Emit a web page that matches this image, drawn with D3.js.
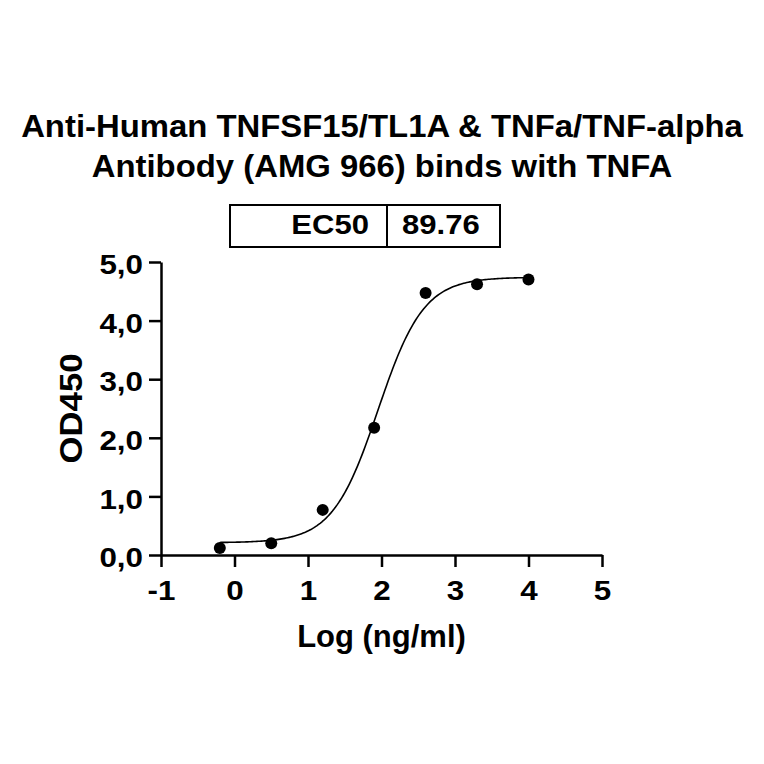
<!DOCTYPE html>
<html>
<head>
<meta charset="utf-8">
<script src="https://cdn.jsdelivr.net/npm/d3@7"></script>
<style>
  body { margin: 0; background: #fff; }
  text { font-family: "Liberation Sans", Arial, Helvetica, sans-serif; font-weight: bold; fill: #000; }
</style>
</head>
<body>
<div id="chart"></div>
<script>
// data
const titleLines = ['Anti-Human TNFSF15/TL1A & TNFa/TNF-alpha', 'Antibody (AMG 966) binds with TNFA'];
const logConc = [-0.2, 0.5, 1.2, 1.9, 2.6, 3.3, 4.0];
const od450 = [0.12, 0.20, 0.77, 2.17, 4.47, 4.62, 4.70];
const xTicks = [-1, 0, 1, 2, 3, 4, 5];
const yTicks = [0, 1, 2, 3, 4, 5];
const tableLabels = ['EC50'];
const tableValues = ['89.76'];
// 4PL fit (bottom, top, logEC50, hill)
const fitBottom = 0.21;
const fitTop = 4.74;
const fitLogEC50 = Math.log10(89.76);
const fitHill = 1.4;

const width = 764, height = 764;
const margin = {top: 262, right: 162, bottom: 209, left: 161};
const chartWidth = width - margin.left - margin.right;
const chartHeight = height - margin.top - margin.bottom;

const svg = d3.select('#chart')
  .append('svg')
  .attr('width', width)
  .attr('height', height);

// widen glyphs a bit, the source font runs wider than Arial
function stretch(sel, k) {
  sel.each(function() {
    const w = this.getComputedTextLength();
    d3.select(this).attr('textLength', w * k).attr('lengthAdjust', 'spacingAndGlyphs');
  });
}

// title
const title = svg.append('g');
title.selectAll('text')
  .data(titleLines)
  .join('text')
  .attr('x', 382)
  .attr('y', (d, i) => 137 + i * 40)
  .attr('text-anchor', 'middle')
  .style('font-size', '31px')
  .text(d => d)
  .call(stretch, 1.06);

// EC50 table
const table = svg.append('g');
table.append('rect')
  .attr('x', 230).attr('y', 205)
  .attr('width', 270).attr('height', 42)
  .attr('fill', 'none').attr('stroke', '#000').attr('stroke-width', 2);
table.append('line')
  .attr('x1', 387).attr('x2', 387).attr('y1', 205).attr('y2', 247)
  .attr('stroke', '#000').attr('stroke-width', 2);
table.append('text')
  .attr('x', 369).attr('y', 234)
  .attr('text-anchor', 'end')
  .style('font-size', '27px')
  .text(tableLabels[0])
  .call(stretch, 1.15);
table.append('text')
  .attr('x', 402).attr('y', 234)
  .style('font-size', '27px')
  .text(tableValues[0])
  .call(stretch, 1.15);

const g = svg.append('g')
  .attr('transform', `translate(${margin.left},${margin.top})`);

const x = d3.scaleLinear().domain([-1, 5]).range([0, chartWidth]);
const y = d3.scaleLinear().domain([0, 5]).range([chartHeight, 0]);

const commaFmt = d3.formatLocale({decimal: ',', thousands: '.', grouping: [3], currency: ['', '']}).format('.1f');

// X axis
const xAxis = g.append('g')
  .attr('transform', `translate(0,${chartHeight})`)
  .call(d3.axisBottom(x).tickValues(xTicks).tickFormat(d => String(d)).tickSize(12).tickSizeOuter(0).tickPadding(13));
// Y axis
const yAxis = g.append('g')
  .call(d3.axisLeft(y).tickValues(yTicks).tickFormat(commaFmt).tickSize(12).tickSizeOuter(0).tickPadding(6));

[xAxis, yAxis].forEach(ax => {
  ax.select('.domain').attr('stroke-width', 2.5);
  ax.selectAll('.tick line').attr('stroke-width', 2.5);
  ax.selectAll('.tick text')
    .attr('font-family', null).attr('font-size', null)
    .style('font-size', '28px')
    .call(stretch, 1.12);
});
yAxis.selectAll('.tick text').attr('dy', '0.42em');

// axis titles
g.append('text')
  .attr('x', chartWidth / 2)
  .attr('y', chartHeight + 92)
  .attr('text-anchor', 'middle')
  .style('font-size', '31px')
  .text('Log (ng/ml)');
g.append('text')
  .attr('transform', `translate(-79,${chartHeight / 2}) rotate(-90)`)
  .attr('text-anchor', 'middle')
  .style('font-size', '31px')
  .text('OD450')
  .call(stretch, 1.12);

// fitted curve
const fit = v => fitBottom + (fitTop - fitBottom) / (1 + Math.pow(10, (fitLogEC50 - v) * fitHill));
const curveX = d3.range(0, 201).map(i => d3.min(logConc) + (d3.max(logConc) - d3.min(logConc)) * i / 200);
g.append('path')
  .datum(curveX)
  .attr('fill', 'none')
  .attr('stroke', '#000')
  .attr('stroke-width', 1.6)
  .attr('d', d3.line()
    .x(d => x(d))
    .y(d => y(fit(d)))
  );

// points
g.selectAll('circle')
  .data(logConc)
  .join('circle')
  .attr('cx', d => x(d))
  .attr('cy', (d, i) => y(od450[i]))
  .attr('r', 6)
  .attr('fill', '#000');
</script>
</body>
</html>
